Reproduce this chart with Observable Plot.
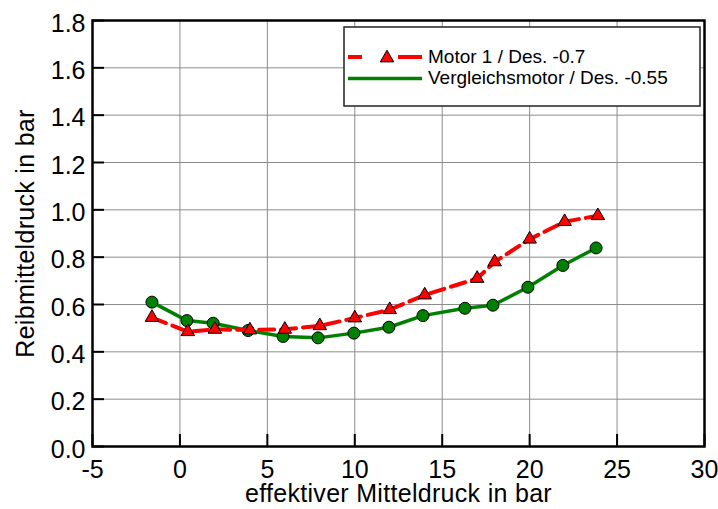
<!DOCTYPE html>
<html><head><meta charset="utf-8">
<script src="https://cdn.jsdelivr.net/npm/d3@7"></script>
<script src="https://cdn.jsdelivr.net/npm/@observablehq/plot@0.6"></script>
<style>
body{margin:0;background:#fff;}
#chart{position:relative;width:718px;height:509px;}
svg text{font-family:"Liberation Sans",Arial,sans-serif;}
</style></head><body><div id="chart"></div>
<script>
const xTicks = [-5, 0, 5, 10, 15, 20, 25, 30];
const yTicks = [0, 0.2, 0.4, 0.6, 0.8, 1.0, 1.2, 1.4, 1.6, 1.8];
const seriesNames = ["Motor 1 / Des. -0.7", "Vergleichsmotor / Des. -0.55"];
const xTitle = "effektiver Mitteldruck in bar";
const yTitle = "Reibmitteldruck in bar";

const motor1X = [-1.6, 0.45, 2.0, 4.0, 6.0, 8.0, 10.0, 12.0, 14.0, 17.0, 18.0, 20.0, 22.0, 23.9];
const motor1Y = [0.545, 0.485, 0.495, 0.492, 0.495, 0.51, 0.543, 0.578, 0.64, 0.71, 0.78, 0.876, 0.95, 0.975];
const vergX = [-1.6, 0.4, 1.9, 3.9, 5.9, 7.9, 9.95, 11.95, 13.9, 16.3, 17.9, 19.9, 21.9, 23.8];
const vergY = [0.61, 0.532, 0.521, 0.49, 0.465, 0.459, 0.479, 0.504, 0.553, 0.584, 0.597, 0.673, 0.765, 0.839];

const motor1 = motor1X.map((x, i) => ({x, y: motor1Y[i]}));
const verg = vergX.map((x, i) => ({x, y: vergY[i]}));

const W = 718, H = 509, mL = 92, mR = 14, mT = 20, mB = 63;
const fw = W - mL - mR, fh = H - mT - mB;

const plot = Plot.plot({
  width: W, height: H,
  marginLeft: mL, marginRight: mR, marginTop: mT, marginBottom: mB,
  style: {fontFamily: "Liberation Sans, Arial, sans-serif", background: "white", color: "black"},
  x: {domain: [-5, 30]},
  y: {domain: [0, 1.8]},
  marks: [
    Plot.ruleX(xTicks, {stroke: "#8c8c8c", strokeWidth: 1}),
    Plot.ruleY(yTicks, {stroke: "#8c8c8c", strokeWidth: 1}),
    Plot.ruleX(xTicks, {stroke: "black", strokeWidth: 2, insetTop: fh - 12}),
    Plot.ruleY(yTicks, {stroke: "black", strokeWidth: 2, insetRight: fw - 12}),
    Plot.axisX({ticks: xTicks, tickSize: 0, tickPadding: 14, fontSize: 25, tickFormat: d => String(d), label: null}),
    Plot.axisY({ticks: yTicks, tickSize: 0, tickPadding: 7, fontSize: 25, tickFormat: d => d.toFixed(1), label: null, dy: 3}),
    Plot.frame({stroke: "black", strokeWidth: 2.5}),
    Plot.line(verg, {x: "x", y: "y", stroke: "#008000", strokeWidth: 3.5}),
    Plot.dot(verg, {x: "x", y: "y", r: 6, fill: "#008000", stroke: "black", strokeWidth: 1}),
    Plot.line(motor1, {x: "x", y: "y", stroke: "#ff0000", strokeWidth: 4, strokeDasharray: "15,7"}),
    Plot.dot(motor1, {x: "x", y: "y", symbol: "triangle", r: 5, fill: "#ff0000", stroke: "black", strokeWidth: 1}),
    Plot.text([xTitle], {text: d => d, frameAnchor: "bottom", dy: 55, lineAnchor: "bottom", textAnchor: "middle", fontSize: 25}),
    Plot.text([yTitle], {text: d => d, frameAnchor: "left", rotate: -90, dx: -59, lineAnchor: "bottom", textAnchor: "middle", fontSize: 25})
  ]
});
document.getElementById("chart").appendChild(plot);

const svg = d3.select(plot);
svg.selectAll('g[aria-label="text"] text').style("letter-spacing", "0.3px");

// legend
const lg = svg.append("g");
lg.append("rect").attr("x", 344).attr("y", 27).attr("width", 356).attr("height", 79)
  .attr("fill", "white").attr("stroke", "#222").attr("stroke-width", 1.5);
lg.append("line").attr("x1", 348).attr("x2", 362).attr("y1", 57).attr("y2", 57)
  .attr("stroke", "#ff0000").attr("stroke-width", 4);
lg.append("line").attr("x1", 398).attr("x2", 422).attr("y1", 57).attr("y2", 57)
  .attr("stroke", "#ff0000").attr("stroke-width", 4);
lg.append("path").attr("d", d3.symbol(d3.symbolTriangle, Math.PI * 25)())
  .attr("transform", "translate(387,58)").attr("fill", "#ff0000").attr("stroke", "black");
lg.append("line").attr("x1", 348).attr("x2", 422).attr("y1", 78.5).attr("y2", 78.5)
  .attr("stroke", "#008000").attr("stroke-width", 3.5);
lg.selectAll("text.lt").data(seriesNames).join("text").attr("class", "lt")
  .attr("x", 428).attr("y", (d, i) => i === 0 ? 63 : 84)
  .attr("text-anchor", "start")
  .attr("font-size", 19).attr("fill", "black").text(d => d);
</script></body></html>
